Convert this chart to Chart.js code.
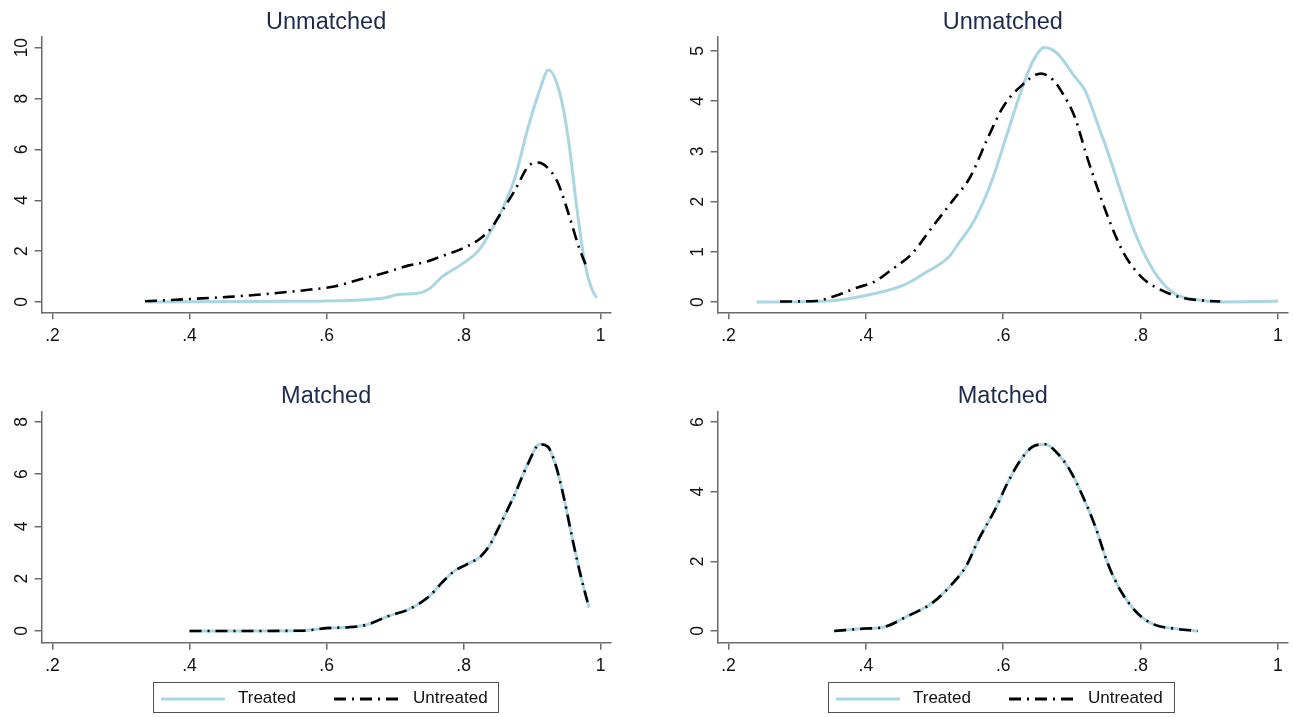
<!DOCTYPE html>
<html>
<head>
<meta charset="utf-8">
<script src="https://cdn.jsdelivr.net/npm/chart.js@4/dist/chart.umd.min.js"></script>
<style>
  body { margin: 0; background: #fff; width: 1293px; height: 717px; overflow: hidden; position: relative;
         font-family: "Liberation Sans", Arial, sans-serif; }
  canvas { position: absolute; }
  .legend { position: absolute; top: 682px; height: 31px; border: 1.5px solid #505050; box-sizing: border-box; }
  .legend svg { position: absolute; top: 12px; }
  .legend span { position: absolute; top: 5px; font-size: 17px; color: #111; }
</style>
</head>
<body>
<canvas id="tl" width="625" height="360" style="left:0;top:0"></canvas>
<canvas id="tr" width="617" height="360" style="left:676px;top:0"></canvas>
<canvas id="bl" width="625" height="316" style="left:0;top:375px"></canvas>
<canvas id="br" width="617" height="316" style="left:676px;top:375px"></canvas>

<div class="legend" style="left:153px;width:346px">
  <svg width="64" height="8" style="left:7px"><line x1="0" y1="4" x2="64" y2="4" stroke="#a9d6e3" stroke-width="3"/></svg>
  <span style="left:84px">Treated</span>
  <svg width="64" height="8" style="left:180px"><line x1="0" y1="4" x2="64" y2="4" stroke="#000" stroke-width="3" stroke-dasharray="12 6 2 6"/></svg>
  <span style="left:259px">Untreated</span>
</div>
<div class="legend" style="left:828px;width:347px">
  <svg width="64" height="8" style="left:7px"><line x1="0" y1="4" x2="64" y2="4" stroke="#a9d6e3" stroke-width="3"/></svg>
  <span style="left:84px">Treated</span>
  <svg width="64" height="8" style="left:180px"><line x1="0" y1="4" x2="64" y2="4" stroke="#000" stroke-width="3" stroke-dasharray="12 6 2 6"/></svg>
  <span style="left:259px">Untreated</span>
</div>

<script>
const TITLES = ["Unmatched", "Unmatched", "Matched", "Matched"];
const SERIES = ["Treated", "Untreated"];
const X_TICKS = [0.2, 0.4, 0.6, 0.8, 1];

// [propensity score, density] pairs
const tlTreated = [[0.34,0],[0.505,0.02],[0.642,0.07],[0.684,0.16],[0.708,0.3],[0.732,0.33],[0.75,0.52],
  [0.768,0.98],[0.798,1.5],[0.822,2.03],[0.84,2.8],[0.858,3.74],[0.875,4.9],[0.893,6.76],[0.911,8.33],
  [0.924,9.12],[0.941,8.14],[0.953,6.36],[0.965,3.74],[0.977,1.5],[0.986,0.59],[0.994,0.16]];
const tlUntreated = [[0.335,0.03],[0.38,0.09],[0.457,0.2],[0.505,0.3],[0.577,0.49],[0.613,0.62],[0.648,0.88],
  [0.684,1.14],[0.72,1.44],[0.744,1.57],[0.768,1.8],[0.798,2.1],[0.822,2.45],[0.84,2.89],[0.854,3.48],
  [0.875,4.4],[0.896,5.38],[0.909,5.48],[0.926,5.18],[0.938,4.66],[0.953,3.48],[0.968,2.17],[0.979,1.4]];

const trTreated = [[0.241,0],[0.345,0.02],[0.4,0.13],[0.454,0.33],[0.485,0.57],[0.521,0.9],[0.533,1.13],
  [0.558,1.63],[0.582,2.36],[0.606,3.36],[0.625,4.16],[0.643,4.79],[0.66,5.07],[0.679,4.95],[0.704,4.49],
  [0.719,4.22],[0.74,3.45],[0.752,3.0],[0.764,2.5],[0.776,2.0],[0.79,1.45],[0.804,1.0],[0.825,0.5],
  [0.849,0.17],[0.88,0.05],[0.922,0],[0.971,0.01],[1.0,0.02]];
const trUntreated = [[0.275,0.01],[0.327,0.02],[0.357,0.13],[0.388,0.29],[0.412,0.4],[0.436,0.63],[0.467,0.96],
  [0.497,1.5],[0.527,2.03],[0.552,2.49],[0.576,3.22],[0.6,3.89],[0.625,4.29],[0.655,4.55],[0.673,4.42],
  [0.685,4.19],[0.704,3.69],[0.722,2.89],[0.74,2.16],[0.758,1.5],[0.776,0.96],[0.801,0.5],[0.831,0.23],
  [0.862,0.08],[0.892,0.03],[0.916,0.01]];

const blTreated = [[0.4,0],[0.457,0],[0.565,0.01],[0.6,0.11],[0.636,0.15],[0.66,0.25],[0.69,0.57],[0.72,0.83],
  [0.75,1.33],[0.768,1.84],[0.786,2.29],[0.804,2.54],[0.825,2.86],[0.837,3.24],[0.852,4.0],[0.873,5.14],
  [0.894,6.41],[0.911,7.15],[0.923,7.05],[0.935,6.29],[0.947,5.02],[0.959,3.49],[0.971,2.1],[0.983,0.89]];
const blUntreated = [[0.4,0],[0.457,0],[0.565,0.01],[0.6,0.11],[0.636,0.15],[0.66,0.25],[0.69,0.57],[0.72,0.83],
  [0.75,1.33],[0.768,1.84],[0.786,2.29],[0.804,2.54],[0.825,2.86],[0.837,3.24],[0.852,4.0],[0.873,5.14],
  [0.894,6.41],[0.911,7.15],[0.923,7.05],[0.935,6.29],[0.947,5.02],[0.959,3.49],[0.971,2.1],[0.983,0.89]];

const brTreated = [[0.354,0],[0.4,0.07],[0.424,0.1],[0.461,0.43],[0.497,0.81],[0.527,1.38],[0.546,1.86],
  [0.564,2.62],[0.588,3.48],[0.606,4.24],[0.625,4.9],[0.643,5.29],[0.661,5.36],[0.679,5.1],[0.697,4.62],
  [0.716,3.86],[0.734,3.0],[0.752,1.95],[0.77,1.19],[0.795,0.52],[0.819,0.19],[0.849,0.07],[0.883,0]];
const brUntreated = [[0.354,0],[0.4,0.07],[0.424,0.1],[0.461,0.43],[0.497,0.81],[0.527,1.38],[0.546,1.86],
  [0.564,2.62],[0.588,3.48],[0.606,4.24],[0.625,4.9],[0.643,5.29],[0.661,5.36],[0.679,5.1],[0.697,4.62],
  [0.716,3.86],[0.734,3.0],[0.752,1.95],[0.77,1.19],[0.795,0.52],[0.819,0.19],[0.849,0.07],[0.883,0]];

const AXIS = "#6b6b6b";
const TREATED_COLOR = "#a9d6e3";

Chart.defaults.font.family = "'Liberation Sans', Arial, sans-serif";
Chart.defaults.color = "#111";

function fmtTick(v) {
  return String(Math.round(v * 10) / 10).replace(/^0\./, ".");
}

function toPoints(pairs) {
  return pairs.map(([x, y]) => ({ x, y }));
}

// plot-region sizes are fixed so each chartArea lands where the Stata panel sits
function makePanel(id, title, treated, untreated, y, opts) {
  new Chart(document.getElementById(id), {
    type: "line",
    data: {
      datasets: [
        { label: SERIES[1], data: toPoints(untreated), borderColor: "#000", borderWidth: 2.6,
          borderDash: [12, 6, 2, 6], order: 0 },
        { label: SERIES[0], data: toPoints(treated), borderColor: TREATED_COLOR, borderWidth: 3, order: 1 },
      ],
    },
    options: {
      responsive: false,
      animation: false,
      layout: { padding: { right: opts.padRight } },
      elements: { point: { radius: 0 }, line: { tension: 0.4, cubicInterpolationMode: "monotone", fill: false } },
      plugins: {
        legend: { display: false },
        tooltip: { enabled: false },
        title: {
          display: true, text: title, fullSize: false, color: "#1e2b4f",
          font: { size: 23.5, weight: "normal", lineHeight: 1.0 },
          padding: { top: opts.titleTop, bottom: 36.7 - opts.titleTop - 23.5 },
        },
      },
      scales: {
        x: {
          type: "linear", min: 0.1842, max: 1.0146,
          afterBuildTicks: (s) => { s.ticks = X_TICKS.map((v) => ({ value: v })); },
          afterFit: (s) => { s.height = opts.xHeight; },
          ticks: { callback: fmtTick, font: { size: 17.5 }, padding: 6, maxRotation: 0, autoSkip: false },
          grid: { drawOnChartArea: false, color: AXIS, lineWidth: 1.5, tickLength: 7 },
          border: { color: AXIS, width: 1.5 },
        },
        y: {
          min: y.min, max: y.max,
          afterBuildTicks: (s) => { s.ticks = y.ticks.map((v) => ({ value: v })); },
          afterFit: (s) => { s.width = 41.6; },
          ticks: { callback: fmtTick, font: { size: 17.5 }, padding: y.pad, minRotation: 90, maxRotation: 90,
                   crossAlign: "center", autoSkip: false },
          grid: { drawOnChartArea: false, color: AXIS, lineWidth: 1.5, tickLength: 7 },
          border: { color: AXIS, width: 1.5 },
        },
      },
    },
  });
}

makePanel("tl", TITLES[0], tlTreated, tlUntreated,
  { min: -0.405, max: 10.43, ticks: [0, 2, 4, 6, 8, 10], pad: 2.5 },
  { padRight: 14.3, titleTop: 11.2, xHeight: 47.7 });
makePanel("tr", TITLES[1], trTreated, trUntreated,
  { min: -0.205, max: 5.285, ticks: [0, 1, 2, 3, 4, 5], pad: 7.3 },
  { padRight: 5, titleTop: 11.2, xHeight: 47.7 });
makePanel("bl", TITLES[2], blTreated, blUntreated,
  { min: -0.448, max: 8.394, ticks: [0, 2, 4, 6, 8], pad: 7.3 },
  { padRight: 14.3, titleTop: 10.2, xHeight: 48.3 });
makePanel("br", TITLES[3], brTreated, brUntreated,
  { min: -0.336, max: 6.296, ticks: [0, 2, 4, 6], pad: 7.3 },
  { padRight: 5, titleTop: 10.2, xHeight: 48.3 });
</script>
</body>
</html>
